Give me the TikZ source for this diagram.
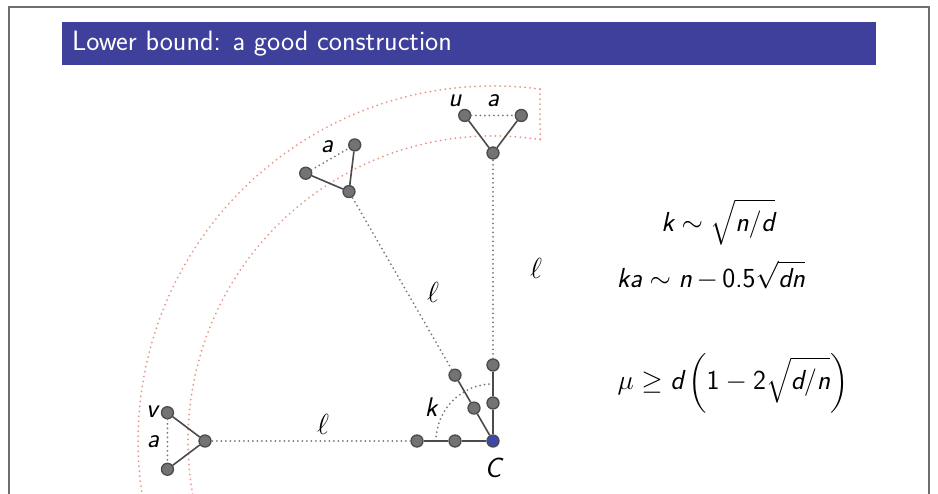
\RequirePackage{fix-cm}
\documentclass[tikz,border=0pt]{standalone}
\usepackage{exscale}
\usepackage{fontspec}
\usetikzlibrary{calc}
\definecolor{titleblue}{RGB}{62,64,155}
\definecolor{framegray}{RGB}{110,110,110}
\definecolor{nodefill}{RGB}{115,115,115}
\definecolor{nodeline}{RGB}{75,75,75}
\definecolor{cblue}{RGB}{60,72,172}
\definecolor{dotgray}{RGB}{120,120,120}
\definecolor{dotred}{RGB}{232,150,135}
\newcommand{\sv}[1]{\textsf{\itshape #1}}
\tikzset{
  vtx/.style={circle, draw=nodeline, fill=nodefill, line width=1.3pt, minimum size=12pt, inner sep=0pt},
  solidedge/.style={draw=nodeline, line width=1.6pt},
  grayline/.style={draw=dotgray, line width=2pt, line cap=round, dash pattern=on 0pt off 4.5pt},
  redline/.style={draw=dotred, line width=2pt, line cap=round, dash pattern=on 0pt off 5pt},
  lbl/.style={font=\fontsize{27}{29}\sffamily\itshape, inner sep=0pt},
  biglbl/.style={font=\fontsize{29}{31}\selectfont, inner sep=0pt},
  formula/.style={font=\fontsize{27.5}{30}\selectfont, inner sep=0pt}
}
\begin{document}
\begin{tikzpicture}[x=1pt,y=1pt]
\useasboundingbox (-493,-53) rectangle (445,441);
\clip (-493,-53) rectangle (445,441);
\fill[white] (-493,-53) rectangle (445,441);
% frame
\draw[framegray, line width=1.5pt] (-484,-60) -- (-484,434) -- (436,434) -- (436,-60);
% title bar
\fill[titleblue] (-431,376) rectangle (383,419);
\node[anchor=west, text=white, font=\fontsize{28}{30}\sffamily, inner sep=0pt] (title) at (-421,397) {Lower bound: a good construction};
% red annular band
\draw[redline] (82.4:355) arc[start angle=82.4, end angle=200, radius=355];
\draw[redline] (81.1:305) arc[start angle=81.1, end angle=200, radius=305];
\draw[redline] (82.4:355) -- (81.1:305);
% k arc
\draw[grayline] (180:57) arc[start angle=180, end angle=90, radius=57];
% nodes
\node[vtx, fill=cblue] (C) at (0,0) {};
\node[vtx] (h1) at (180:38) {};
\node[vtx] (h2) at (180:76) {};
\node[vtx] (v1) at (90:38) {};
\node[vtx] (v2) at (90:76) {};
\node[vtx] (d1) at (120:38) {};
\node[vtx] (d2) at (120:76) {};
\node[vtx] (L) at (180:288) {};
\node[vtx] (U) at (90:288) {};
\node[vtx] (D) at (120:288) {};
\node[vtx] (La) at ($(L)+(143:47)$) {};
\node[vtx] (Lb) at ($(L)+(217:47)$) {};
\node[vtx] (Ua) at ($(U)+(127:47)$) {};
\node[vtx] (Ub) at ($(U)+(53:47)$) {};
\node[vtx] (Da) at ($(D)+(157:47)$) {};
\node[vtx] (Db) at ($(D)+(83:47)$) {};
% solid edges
\draw[solidedge] (C) -- (h1) -- (h2);
\draw[solidedge] (C) -- (v1) -- (v2);
\draw[solidedge] (C) -- (d1) -- (d2);
\draw[solidedge] (La) -- (L) -- (Lb);
\draw[solidedge] (Ua) -- (U) -- (Ub);
\draw[solidedge] (Da) -- (D) -- (Db);
% dotted edges
\draw[grayline] (h2) -- (L);
\draw[grayline] (v2) -- (U);
\draw[grayline] (d2) -- (D);
\draw[grayline] (La) -- (Lb);
\draw[grayline] (Ua) -- (Ub);
\draw[grayline] (Da) -- (Db);
% labels
\node[lbl] (lu) at (-38,340) {u};
\node[lbl] (la1) at (0,340) {a};
\node[lbl] (la2) at (-166,294) {a};
\node[lbl] (lv) at (-341,29) {v};
\node[lbl] (la3) at (-340,-1) {a};
\node[lbl] (lk) at (-62,34) {k};
\node[font=\fontsize{28}{30}\sffamily\itshape, inner sep=0pt] (lC) at (0,-27) {C};
\node[biglbl] (l1) at (43,173) {$\ell$};
\node[biglbl] (l2) at (-60,149) {$\ell$};
\node[biglbl] (l3) at (-170,17) {$\ell$};
% formulas
\node[formula] (f1) at (225,219) {$\displaystyle\sv{k}\sim\sqrt{\sv{n}/\sv{d}}$};
\node[formula] (f2) at (218,166) {$\displaystyle\sv{ka}\sim\sv{n}\,{-}\,\textsf{0.5}\sqrt{\sv{dn}}$};
\node[formula] (f3) at (240,58) {$\displaystyle\mu\ge\sv{d}\left(\textsf{1}-\textsf{2}\sqrt{\sv{d}/\sv{n}}\right)$};
\end{tikzpicture}
\end{document}
